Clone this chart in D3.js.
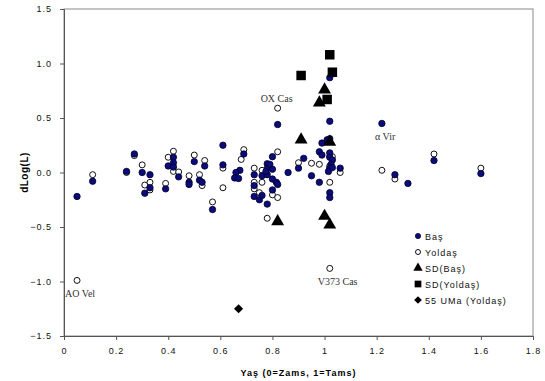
<!DOCTYPE html>
<html>
<head>
<meta charset="utf-8">
<script src="https://cdn.jsdelivr.net/npm/d3@7"></script>
<style>
  body { margin: 0; background: #fff; }
  svg { display: block; }
  .tick text { font-family: "Liberation Sans", Arial, sans-serif; font-size: 9px; letter-spacing: 1px; fill: #111; }
</style>
</head>
<body>
<div id="chart"></div>
<script>
// values: [age, dLog(L)]
const bas = [
  [0.05,-0.22],[0.11,-0.08],[0.24,0.01],[0.27,0.17],[0.30,0.00],[0.33,-0.02],[0.31,-0.19],
  [0.33,-0.14],[0.39,-0.15],[0.40,0.06],[0.42,0.14],[0.42,0.09],[0.42,0.05],[0.44,-0.04],
  [0.50,0.10],[0.48,-0.09],[0.48,-0.11],[0.52,-0.07],[0.53,-0.09],[0.54,0.06],[0.57,-0.34],
  [0.61,0.25],[0.69,0.17],[0.61,0.07],[0.675,0.02],[0.66,0.00],[0.655,-0.05],[0.67,-0.055],
  [0.73,-0.02],[0.76,-0.03],[0.78,0.08],[0.78,-0.02],[0.73,-0.12],[0.73,-0.22],[0.75,-0.25],
  [0.76,-0.21],[0.78,-0.29],[0.785,0.05],[0.775,0.01],[0.80,0.145],[0.80,-0.06],[0.815,-0.09],
  [0.82,-0.11],[0.80,-0.16],[0.80,0.03],[0.79,0.075],[0.82,0.44],[0.86,0.00],[0.90,0.04],
  [0.92,0.13],[0.95,-0.03],[0.98,-0.09],[0.98,0.19],[0.99,0.16],[0.99,0.27],[1.01,0.30],
  [1.02,0.31],[1.02,0.18],[1.02,0.14],[1.03,0.115],[1.025,0.075],[1.02,0.04],[1.03,0.045],
  [1.015,0.01],[1.06,0.04],[1.02,-0.185],[1.02,-0.23],[1.02,0.47],[1.02,0.87],[1.22,0.45],
  [1.27,-0.02],[1.32,-0.10],[1.42,0.11],[1.60,-0.01]
];
const yoldas = [
  [0.05,-0.99],[0.11,-0.02],[0.24,0.00],[0.27,0.155],[0.30,0.07],[0.31,-0.115],[0.33,-0.09],
  [0.33,-0.16],[0.39,-0.10],[0.40,0.14],[0.42,0.195],[0.42,0.01],[0.44,0.005],[0.50,0.16],
  [0.48,-0.03],[0.52,-0.02],[0.53,-0.12],[0.54,0.11],[0.57,-0.27],[0.61,0.04],[0.61,-0.14],
  [0.69,0.21],[0.68,0.12],[0.73,0.04],[0.76,0.02],[0.73,-0.09],[0.73,-0.15],[0.75,-0.185],
  [0.76,-0.09],[0.78,-0.42],[0.82,0.19],[0.82,0.59],[0.80,-0.205],[0.82,-0.23],[0.90,0.09],
  [0.95,0.085],[0.98,0.075],[1.02,0.145],[1.03,0.145],[1.02,0.06],[1.06,0.00],[1.02,-0.09],
  [1.02,-0.88],[1.22,0.02],[1.27,-0.06],[1.42,0.17],[1.60,0.04],[0.78,0.04]
];
const sdBas = [[0.91,0.30],[1.02,0.28],[0.82,-0.45],[1.00,-0.40],[1.02,-0.48],[1.00,0.76],[0.98,0.64]];
const sdYoldas = [[1.02,1.08],[0.91,0.89],[1.03,0.92],[1.01,0.67]];
const uma55 = [[0.67,-1.25]];

const starLabels = [
  { name: 'OX Cas', x: 0.82, y: 0.59, dx: -17, dy: -6 },
  { name: 'α Vir', x: 1.22, y: 0.45, dx: -7, dy: 17 },
  { name: 'AO Vel', x: 0.05, y: -0.99, dx: -12, dy: 17 },
  { name: 'V373 Cas', x: 1.02, y: -0.88, dx: -12, dy: 17 }
];

const xTicks = [0, 0.2, 0.4, 0.6, 0.8, 1, 1.2, 1.4, 1.6, 1.8];
const yTicks = [-1.5, -1.0, -0.5, 0.0, 0.5, 1.0, 1.5];

const legendItems = [
  { label: 'Baş', shape: 'filled' },
  { label: 'Yoldaş', shape: 'open' },
  { label: 'SD(Baş)', shape: 'triangle' },
  { label: 'SD(Yoldaş)', shape: 'square' },
  { label: '55 UMa (Yoldaş)', shape: 'diamond' }
];

const width = 545, height = 381;
const margin = { top: 9, right: 12, bottom: 45, left: 64 };

const svg = d3.select('#chart').append('svg')
  .attr('width', width)
  .attr('height', height);

const x = d3.scaleLinear().domain([0, 1.8]).range([margin.left, width - margin.right]);
const y = d3.scaleLinear().domain([-1.5, 1.5]).range([height - margin.bottom, margin.top]);

// plot frame
svg.append('rect')
  .attr('x', x(0)).attr('y', y(1.5))
  .attr('width', x(1.8) - x(0)).attr('height', y(-1.5) - y(1.5))
  .attr('fill', 'none').attr('stroke', '#8a8a8a').attr('stroke-width', 1);

const xAxis = svg.append('g')
  .attr('transform', `translate(0,${y(-1.5)})`)
  .call(d3.axisBottom(x).tickValues(xTicks).tickSize(4).tickPadding(8).tickFormat(d3.format('')));
const yAxis = svg.append('g')
  .attr('transform', `translate(${x(0)},0)`)
  .call(d3.axisLeft(y).tickValues(yTicks).tickSize(4).tickPadding(8).tickFormat(d3.format('.1f')));
[xAxis, yAxis].forEach(a => {
  a.select('.domain').attr('stroke', '#555');
  a.selectAll('.tick line').attr('stroke', '#555');
});

svg.append('text')
  .attr('x', (x(0) + x(1.8)) / 2).attr('y', 376)
  .attr('text-anchor', 'middle')
  .style('font-family', '"Liberation Sans", Arial, sans-serif')
  .style('font-size', '9px').style('font-weight', 'bold').style('letter-spacing', '1px')
  .text('Yaş (0=Zams, 1=Tams)');

svg.append('text')
  .attr('transform', `translate(28,${(y(1.5) + y(-1.5)) / 2}) rotate(-90)`)
  .attr('text-anchor', 'middle')
  .style('font-family', '"Liberation Sans", Arial, sans-serif')
  .style('font-size', '10px').style('font-weight', 'bold').style('letter-spacing', '0.5px')
  .text('dLog(L)');

const g = svg.append('g');

function drawShape(sel, shape, big) {
  if (shape === 'filled') {
    sel.append('circle').attr('r', big ? 3.2 : 2.6).attr('fill', '#0c0c78').attr('stroke', '#000030').attr('stroke-width', 0.8);
  } else if (shape === 'open') {
    sel.append('circle').attr('r', big ? 3 : 2.5).attr('fill', '#fff').attr('stroke', '#111').attr('stroke-width', 1);
  } else if (shape === 'diamond') {
    // rotated square, like the excel marker
    sel.append('path').attr('d', d3.symbol().type(d3.symbolSquare).size(big ? 42 : 30))
      .attr('transform', 'rotate(45)').attr('fill', '#000');
  } else {
    const sym = shape === 'triangle' ? d3.symbolTriangle : d3.symbolSquare;
    const size = big ? (shape === 'triangle' ? 72 : 90) : (shape === 'triangle' ? 38 : 45);
    sel.append('path').attr('d', d3.symbol().type(sym).size(size)).attr('fill', '#000');
  }
}

const series = [
  { data: yoldas, shape: 'open' },
  { data: bas, shape: 'filled' },
  { data: sdBas, shape: 'triangle' },
  { data: sdYoldas, shape: 'square' },
  { data: uma55, shape: 'diamond' }
];

series.forEach(s => {
  g.selectAll(null)
    .data(s.data)
    .join('g')
    .attr('transform', d => `translate(${x(d[0])},${y(d[1])})`)
    .each(function () { drawShape(d3.select(this), s.shape, true); });
});

svg.selectAll('.star')
  .data(starLabels)
  .join('text')
  .attr('class', 'star')
  .attr('x', d => x(d.x) + d.dx)
  .attr('y', d => y(d.y) + d.dy)
  .style('font-family', '"Liberation Serif", "Times New Roman", serif')
  .style('font-size', '10px')
  .attr('fill', '#333')
  .text(d => d.name);

const legend = svg.append('g').attr('transform', 'translate(418,236)');
const li = legend.selectAll('g')
  .data(legendItems)
  .join('g')
  .attr('transform', (d, i) => `translate(0,${i * 16})`);
li.each(function (d) { drawShape(d3.select(this), d.shape, false); });
li.append('text')
  .attr('x', 7).attr('y', 3.5)
  .style('font-family', '"Liberation Sans", Arial, sans-serif')
  .style('font-size', '9px').style('letter-spacing', '1px')
  .attr('fill', '#111')
  .text(d => d.label);
</script>
</body>
</html>
